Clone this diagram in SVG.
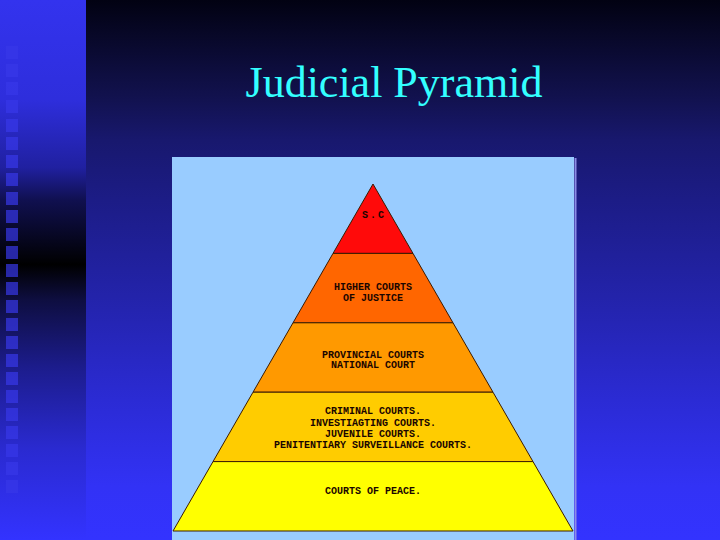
<svg xmlns="http://www.w3.org/2000/svg" width="720" height="540" viewBox="0 0 720 540">
<defs>
<linearGradient id="bgMain" x1="0" y1="0" x2="0" y2="540" gradientUnits="userSpaceOnUse">
<stop offset="0" stop-color="#020212"/>
<stop offset="0.185" stop-color="#121250"/>
<stop offset="0.26" stop-color="#18186e"/>
<stop offset="0.37" stop-color="#1c1c86"/>
<stop offset="0.55" stop-color="#2323aa"/>
<stop offset="0.74" stop-color="#2b2bd4"/>
<stop offset="0.9" stop-color="#3232f5"/>
<stop offset="1" stop-color="#3333ff"/>
</linearGradient>
<linearGradient id="bgLeft" x1="0" y1="0" x2="0" y2="540" gradientUnits="userSpaceOnUse">
<stop offset="0" stop-color="#3333ee"/>
<stop offset="0.185" stop-color="#2e2edc"/>
<stop offset="0.31" stop-color="#2020a0"/>
<stop offset="0.37" stop-color="#101050"/>
<stop offset="0.49" stop-color="#000000"/>
<stop offset="0.555" stop-color="#0e0e40"/>
<stop offset="0.68" stop-color="#1c1c8c"/>
<stop offset="0.83" stop-color="#2a2ad0"/>
<stop offset="1" stop-color="#3333ff"/>
</linearGradient>
<style>
.sq{fill:#3838e8;opacity:0.7}
.lvl{stroke:#3a1a00;stroke-width:1;stroke-linejoin:round}
.lbl{font-family:"Liberation Mono","Courier New",monospace;font-size:10px;font-weight:bold;fill:#1a0500;text-anchor:middle}
.title{font-family:"Liberation Serif","Times New Roman",serif;font-size:44px;fill:#33ffff;text-anchor:middle}
</style>
</defs>
<rect x="0" y="0" width="720" height="540" fill="url(#bgMain)"/>
<rect x="0" y="0" width="86" height="540" fill="url(#bgLeft)"/>
<g id="squares">
<rect class="sq" x="6" y="46" width="12" height="13"/>
<rect class="sq" x="6" y="64" width="12" height="13"/>
<rect class="sq" x="6" y="82" width="12" height="13"/>
<rect class="sq" x="6" y="100" width="12" height="13"/>
<rect class="sq" x="6" y="119" width="12" height="13"/>
<rect class="sq" x="6" y="137" width="12" height="13"/>
<rect class="sq" x="6" y="155" width="12" height="13"/>
<rect class="sq" x="6" y="173" width="12" height="13"/>
<rect class="sq" x="6" y="192" width="12" height="13"/>
<rect class="sq" x="6" y="210" width="12" height="13"/>
<rect class="sq" x="6" y="228" width="12" height="13"/>
<rect class="sq" x="6" y="246" width="12" height="13"/>
<rect class="sq" x="6" y="264" width="12" height="13"/>
<rect class="sq" x="6" y="282" width="12" height="13"/>
<rect class="sq" x="6" y="300" width="12" height="13"/>
<rect class="sq" x="6" y="318" width="12" height="13"/>
<rect class="sq" x="6" y="336" width="12" height="13"/>
<rect class="sq" x="6" y="354" width="12" height="13"/>
<rect class="sq" x="6" y="372" width="12" height="13"/>
<rect class="sq" x="6" y="390" width="12" height="13"/>
<rect class="sq" x="6" y="408" width="12" height="13"/>
<rect class="sq" x="6" y="426" width="12" height="13"/>
<rect class="sq" x="6" y="444" width="12" height="13"/>
<rect class="sq" x="6" y="462" width="12" height="13"/>
<rect class="sq" x="6" y="480" width="12" height="13"/>
</g>
<text class="title" x="394" y="97">Judicial Pyramid</text>
<g id="panel">
<rect x="172" y="157" width="402" height="383" fill="#99ccff"/>
<rect x="574.5" y="158" width="2" height="382" fill="#8c8ce6"/>
</g>
<g id="connectors"></g>
<g id="level1">
<polygon class="lvl" points="373,184 413,253.4 333,253.4" fill="#ff0a0a"/>
<text class="lbl" x="374" y="218" letter-spacing="2">S.C</text>
</g>
<g id="level2">
<polygon class="lvl" points="333,253.4 413,253.4 453,322.8 293,322.8" fill="#ff6600"/>
<text class="lbl" x="373" y="290">HIGHER COURTS</text>
<text class="lbl" x="373" y="300.6">OF JUSTICE</text>
</g>
<g id="level3">
<polygon class="lvl" points="293,322.8 453,322.8 493,392.2 253,392.2" fill="#ff9900"/>
<text class="lbl" x="373" y="357.8">PROVINCIAL COURTS</text>
<text class="lbl" x="373" y="368">NATIONAL COURT</text>
</g>
<g id="level4">
<polygon class="lvl" points="253,392.2 493,392.2 533,461.6 213,461.6" fill="#ffcc00"/>
<text class="lbl" x="373" y="413.8">CRIMINAL COURTS.</text>
<text class="lbl" x="373" y="426.3">INVESTIAGTING COURTS.</text>
<text class="lbl" x="373" y="437.3">JUVENILE COURTS.</text>
<text class="lbl" x="373" y="448.3">PENITENTIARY SURVEILLANCE COURTS.</text>
</g>
<g id="level5">
<polygon class="lvl" points="213,461.6 533,461.6 573,531 173,531" fill="#ffff00"/>
<text class="lbl" x="373" y="494.3">COURTS OF PEACE.</text>
</g>
</svg>
